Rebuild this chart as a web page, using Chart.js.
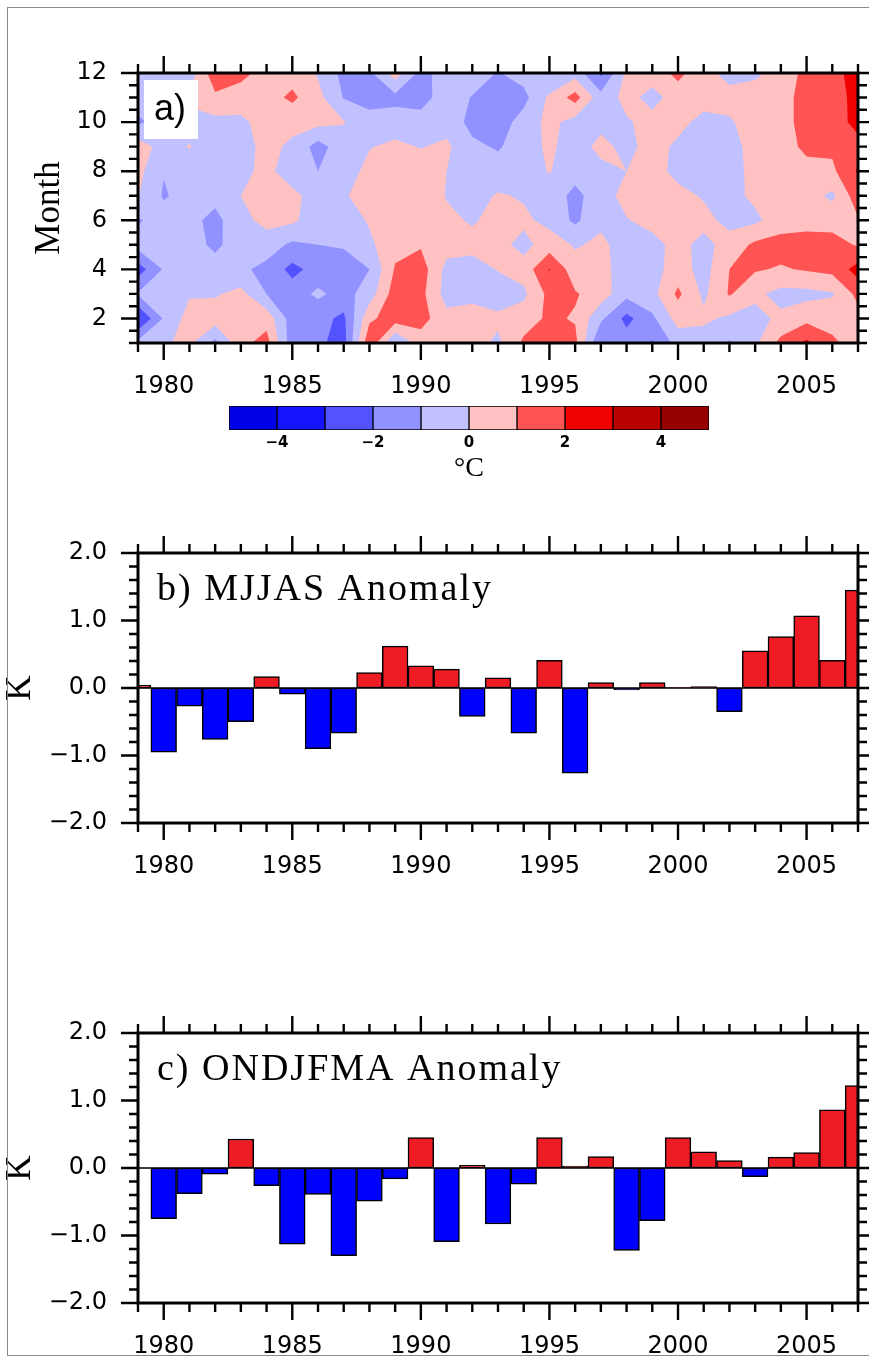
<!DOCTYPE html>
<html><head><meta charset="utf-8">
<script src="https://cdn.jsdelivr.net/npm/chart.js@4"></script>
<style>
html,body{margin:0;padding:0;background:#fff;width:869px;height:1357px;overflow:hidden;position:relative;}
#frame{position:absolute;left:7px;top:7px;width:900px;height:1349px;border:1px solid #8a8a8a;box-sizing:border-box;z-index:10;pointer-events:none;}
canvas{position:absolute;left:0;}
</style></head><body>
<div id="frame"></div>
<canvas id="ca" width="869" height="400" style="top:0px"></canvas>
<canvas id="cbar" width="869" height="90" style="top:400px"></canvas>
<canvas id="cb" width="869" height="400" style="top:490px"></canvas>
<canvas id="cc" width="869" height="386" style="top:970px"></canvas>
<script>
// ---------------- DATA ----------------
const years = [1979,1980,1981,1982,1983,1984,1985,1986,1987,1988,1989,1990,1991,1992,1993,1994,1995,1996,1997,1998,1999,2000,2001,2002,2003,2004,2005,2006,2007];
const months = [1,2,3,4,5,6,7,8,9,10,11,12];
// monthly temperature anomaly (°C), one array per month, values for 1979..2007
const anomJan = [-0.7,-0.1,0.2,-1.3,0.7,1.4,-1.6,-1.8,-2.4,1.8,-1.1,0.5,0.3,0.4,-0.2,1.2,1.5,1.3,-2.1,-1.5,-2.1,-0.6,-0.5,-1.1,-0.2,1.3,2.2,1.2,0.5];
const anomFeb = [-3.1,-0.9,0.4,0.5,0.6,0.6,-1.5,-1.7,-2.2,0.8,1.5,1.4,0.3,0.3,0.2,0.5,1.2,0.9,-0.8,-2.3,-1.2,0.4,0.2,-0.2,-0.3,0.2,0.7,0.6,0.6];
const anomMar = [-0.9,-0.6,-0.1,-0.1,0.3,-1.0,-1.5,-0.8,-1.4,-0.5,1.5,1.3,-0.4,-0.2,-0.5,-0.2,1.3,1.1,0.5,-0.7,-0.3,1.2,-0.2,1.1,0.2,-0.3,-0.3,-0.1,1.3];
const anomApr = [-2.5,-0.9,-0.5,-0.6,-0.8,-1.3,-2.3,-1.6,-1.5,-1.0,1.1,1.5,-0.3,-0.4,0.05,0.4,2.05,0.4,0.4,-0.6,-0.4,0.5,-0.4,1.0,1.1,0.9,1.1,1.3,2.4];
const anomMay = [-0.6,-0.5,-0.6,-1.2,-0.5,-0.5,-1.2,-1.0,-0.9,-0.2,0.7,0.9,0.4,0.3,0.3,-0.3,0.5,-0.1,0.2,-0.4,-0.3,0.3,-0.3,0.4,1.2,1.4,1.6,1.4,0.9];
const anomJun = [-1.1,-0.6,-0.7,-1.3,-0.3,0.3,0.2,-0.6,-0.5,0.1,0.6,0.4,0.2,-0.1,0.3,0.2,-0.3,-1.2,-0.2,-0.05,0.3,0.4,0.3,-0.3,-0.2,0.5,0.5,0.6,0.9];
const anomJul = [0.05,-1.1,-0.6,-0.7,0.0,0.5,0.3,-0.5,-0.1,0.4,0.6,0.6,-0.05,-0.4,0.1,-0.1,-0.4,-1.3,-0.4,0.3,0.5,0.3,-0.1,-0.3,0.2,0.4,0.4,-0.2,1.6];
const anomAug = [0.3,-0.95,-0.5,-0.6,-0.3,0.3,-0.6,-1.0,-0.5,0.3,0.5,0.5,0.0,-0.5,-0.6,-0.4,0.05,-0.6,-0.3,0.0,0.4,-0.3,-0.4,-0.4,0.3,0.5,0.7,0.8,2.1];
const anomSep = [0.5,-0.4,0.05,-0.6,-0.4,0.3,-0.2,-1.4,-0.4,-0.05,0.2,-0.05,0.2,-0.8,-1.1,-0.5,0.2,-0.5,0.3,-0.3,0.4,-0.2,-0.05,-0.4,0.4,0.6,1.2,1.2,1.8];
const anomOct = [-1.2,-0.5,-0.3,-0.3,-0.2,0.4,0.3,0.3,0.05,-0.6,-0.5,-0.6,-0.4,-1.3,-1.5,-0.6,0.3,-0.4,-0.3,-0.1,0.3,0.3,-0.3,-0.1,0.4,0.6,1.4,1.7,2.2];
const anomNov = [-0.5,-0.3,0.2,0.8,0.5,0.6,1.2,0.3,-1.05,-1.4,-1.3,-1.4,-0.5,-1.05,-1.2,-1.3,0.2,1.4,-0.6,0.3,-0.3,0.4,0.4,0.3,0.5,0.5,1.5,1.6,2.3];
const anomDec = [-0.5,-0.4,-0.6,1.7,1.3,0.6,0.6,-0.1,-1.3,-1.2,0.5,-1.3,-0.6,-0.5,-1.05,-0.6,-1.1,-0.4,-2.2,0.2,0.4,1.3,0.3,-0.3,-0.2,0.4,1.3,1.6,2.5];
// seasonal anomalies (K)
const mjjas   = [0.04,-0.95,-0.27,-0.76,-0.50,0.17,-0.09,-0.90,-0.67,0.23,0.62,0.33,0.28,-0.42,0.15,-0.67,0.41,-1.26,0.08,-0.03,0.08,0.005,0.02,-0.35,0.55,0.76,1.07,0.41,1.45];
const ondjfma = [0.0,-0.75,-0.38,-0.09,0.43,-0.26,-1.13,-0.39,-1.30,-0.49,-0.16,0.45,-1.09,0.04,-0.83,-0.24,0.45,0.03,0.17,-1.22,-0.78,0.45,0.24,0.11,-0.13,0.16,0.23,0.86,1.22];
// tick labels / levels
const yearTicks = [1980,1985,1990,1995,2000,2005];
const monthTicks = [2,4,6,8,10,12];
const kTicks = [-2,-1,0,1,2];
const cbLevels = [-5,-4,-3,-2,-1,0,1,2,3,4,5];
const cbTicks = [-4,-2,0,2,4];
const cbColors = ['#0000E6','#1414FF','#5252FF','#9191FF','#C1C1FF','#FFC1C1','#FF5454','#F00000','#B80000','#960000'];

const monthRows = [anomJan,anomFeb,anomMar,anomApr,anomMay,anomJun,anomJul,anomAug,anomSep,anomOct,anomNov,anomDec];
const RED = '#ED1C24', BLUE = '#0000FF';
const TICKFONT = {family:'"DejaVu Sans"', size:24};
const minus = v => (v < 0 ? '\u2212' : '') + Math.abs(v);

// --------------- PLUGINS ---------------
const axesPlugin = {
  id: 'axesFrame',
  afterDraw(chart, args, o) {
    const {ctx, chartArea: a, scales: {x, y}} = chart;
    ctx.save();
    ctx.strokeStyle = '#000';
    ctx.lineWidth = 2.4;
    ctx.beginPath();
    const nx = Math.round((o.xMax - o.xMin) / o.xMinor);
    for (let i = 0; i <= nx; i++) {
      const v = o.xMin + i * o.xMinor;
      const px = x.getPixelForValue(v);
      const len = (Math.abs(v / o.xMajor - Math.round(v / o.xMajor)) < 1e-6) ? 17 : 9;
      ctx.moveTo(px, a.bottom); ctx.lineTo(px, a.bottom + len);
      ctx.moveTo(px, a.top); ctx.lineTo(px, a.top - len);
    }
    const ny = Math.round((o.yMax - o.yMin) / o.yMinor);
    for (let i = 0; i <= ny; i++) {
      const v = o.yMin + i * o.yMinor;
      const py = y.getPixelForValue(v);
      const len = (Math.abs(v / o.yMajor - Math.round(v / o.yMajor)) < 1e-6) ? 17 : 9;
      ctx.moveTo(a.left, py); ctx.lineTo(a.left - len, py);
      ctx.moveTo(a.right, py); ctx.lineTo(a.right + len, py);
    }
    ctx.stroke();
    if (o.zeroLine) {
      ctx.lineWidth = 1.6;
      ctx.beginPath();
      const p0 = y.getPixelForValue(0);
      ctx.moveTo(a.left, p0); ctx.lineTo(a.right, p0);
      ctx.stroke();
    }
    ctx.lineWidth = 3;
    ctx.strokeRect(a.left, a.top, a.right - a.left, a.bottom - a.top);
    if (o.title) {
      ctx.fillStyle = '#000';
      ctx.font = '38px "Liberation Serif"';
      ctx.letterSpacing = '2px';
      ctx.textBaseline = 'alphabetic';
      ctx.textAlign = 'left';
      ctx.fillText(o.title, a.left + 19, a.top + 47);
    }
    if (o.boxLabel) {
      ctx.fillStyle = '#fff';
      ctx.fillRect(a.left + 6, a.top + 7, 54, 59);
      ctx.fillStyle = '#000';
      ctx.font = '36px "Liberation Sans"';
      ctx.textBaseline = 'alphabetic';
      ctx.textAlign = 'left';
      ctx.fillText(o.boxLabel, a.left + 16, a.top + 47);
    }
    ctx.restore();
  }
};

function clipPoly(pts, L) {
  const out = [];
  for (let k = 0; k < pts.length; k++) {
    const a = pts[k], b = pts[(k + 1) % pts.length];
    const ain = a.v >= L, bin = b.v >= L;
    if (ain) out.push(a);
    if (ain !== bin) {
      const t = (L - a.v) / (b.v - a.v);
      out.push({x: a.x + t * (b.x - a.x), y: a.y + t * (b.y - a.y), v: L});
    }
  }
  return out;
}

const contourPlugin = {
  id: 'contourFill',
  beforeDatasetsDraw(chart, args, o) {
    const {ctx, chartArea: a, scales: {x, y}} = chart;
    const pts = chart.data.datasets[0].data;
    const nX = o.nX, nY = o.nY;
    const node = (i, j) => pts[j * nX + i];
    ctx.save();
    ctx.beginPath();
    ctx.rect(a.left, a.top, a.right - a.left, a.bottom - a.top);
    ctx.clip();
    ctx.fillStyle = o.colors[0];
    ctx.fillRect(a.left, a.top, a.right - a.left, a.bottom - a.top);
    for (let k = 1; k < o.levels.length - 1; k++) {
      const L = o.levels[k];
      ctx.beginPath();
      let any = false;
      for (let j = 0; j < nY - 1; j++) {
        for (let i = 0; i < nX - 1; i++) {
          const q = [node(i, j), node(i + 1, j), node(i + 1, j + 1), node(i, j + 1)]
            .map(p => ({x: p.x, y: p.y, v: p.v}));
          const poly = clipPoly(q, L);
          if (poly.length < 3) continue;
          any = true;
          poly.forEach((p, n) => {
            const px = x.getPixelForValue(p.x), py = y.getPixelForValue(p.y);
            if (n === 0) ctx.moveTo(px, py); else ctx.lineTo(px, py);
          });
          ctx.closePath();
        }
      }
      if (any) { ctx.fillStyle = o.colors[k]; ctx.fill('nonzero'); }
    }
    ctx.restore();
  }
};

const common = {
  responsive: false, animation: false, devicePixelRatio: 1,
  events: [],
};

// --------------- PANEL A ---------------
const gridPoints = [];
months.forEach((m, j) => years.forEach((yr, i) => gridPoints.push({x: yr, y: m, v: monthRows[j][i]})));

function xScale(h) {
  return {
    type: 'linear', min: years[0], max: years[years.length - 1], offset: false,
    afterBuildTicks: s => { s.ticks = yearTicks.map(v => ({value: v})); },
    afterFit: s => { s.height = h; },
    grid: {display: false, drawTicks: false, offset: false}, border: {display: false},
    ticks: {font: TICKFONT, color: '#000', padding: 29, autoSkip: false, maxRotation: 0, callback: v => String(v)}
  };
}

new Chart(document.getElementById('ca'), {
  type: 'scatter',
  data: {datasets: [{data: gridPoints, pointRadius: 0, showLine: false}]},
  options: Object.assign({}, common, {
    layout: {padding: {top: 73, right: 11, left: 0, bottom: 0}},
    plugins: {legend: {display: false}, tooltip: {enabled: false},
      contourFill: {nX: years.length, nY: months.length, levels: cbLevels, colors: cbColors},
      axesFrame: {xMin: 1979, xMax: 2007, xMinor: 1, xMajor: 5, yMin: 1, yMax: 12, yMinor: 0.5, yMajor: 2, boxLabel: 'a)'}
    },
    scales: {
      x: xScale(57),
      y: {
        type: 'linear', min: 1, max: 12,
        afterBuildTicks: s => { s.ticks = monthTicks.map(v => ({value: v})); },
        afterFit: s => { s.width = 138; },
        grid: {display: false, drawTicks: false}, border: {display: false},
        ticks: {font: TICKFONT, color: '#000', padding: 31, autoSkip: false, callback: v => String(v)},
        title: {display: true, text: 'Month', color: '#000', font: {family: '"Liberation Serif"', size: 35}, padding: {top: 29, bottom: 0}}
      }
    }
  }),
  plugins: [contourPlugin, axesPlugin]
});

// --------------- COLORBAR ---------------
new Chart(document.getElementById('cbar'), {
  type: 'bar',
  data: {
    labels: ['bar'],
    datasets: cbColors.map((c, k) => ({
      data: [[cbLevels[k], cbLevels[k + 1]]],
      backgroundColor: c, borderColor: '#000', borderWidth: 1, borderSkipped: false,
      grouped: false, barPercentage: 1, categoryPercentage: 1
    }))
  },
  options: Object.assign({}, common, {
    indexAxis: 'y',
    layout: {padding: {top: 6, left: 229, right: 160, bottom: 0}},
    plugins: {legend: {display: false}, tooltip: {enabled: false}},
    scales: {
      x: {
        type: 'linear', min: cbLevels[0], max: cbLevels[cbLevels.length - 1],
        afterBuildTicks: s => { s.ticks = cbTicks.map(v => ({value: v})); },
        afterFit: s => { s.height = 60; },
        grid: {display: false, drawTicks: false}, border: {display: false},
        ticks: {font: {family: '"DejaVu Sans"', size: 15, weight: 'bold'}, color: '#000', padding: 4, autoSkip: false, maxRotation: 0, callback: v => minus(v)},
        title: {display: true, text: '\u00B0C', color: '#000', font: {family: '"Liberation Serif"', size: 28}, padding: {top: 0, bottom: 5}}
      },
      y: {display: false}
    }
  })
});

// --------------- BAR PANELS ---------------
function barPanel(id, values, title, xh) {
  new Chart(document.getElementById(id), {
    type: 'bar',
    data: {datasets: [{
      data: years.map((yr, i) => ({x: yr, y: values[i]})),
      backgroundColor: c => (c.raw && c.raw.y >= 0 ? RED : BLUE),
      borderColor: '#000', borderWidth: 1.5, borderSkipped: false,
      barPercentage: 1, categoryPercentage: 1
    }]},
    options: Object.assign({}, common, {
      layout: {padding: {top: 63, right: 11, left: 0, bottom: 0}},
      plugins: {legend: {display: false}, tooltip: {enabled: false},
        axesFrame: {xMin: 1979, xMax: 2007, xMinor: 1, xMajor: 5, yMin: -2, yMax: 2, yMinor: 0.2, yMajor: 1, zeroLine: true, title: title}
      },
      scales: {
        x: xScale(xh),
        y: {
          type: 'linear', min: -2, max: 2,
          afterBuildTicks: s => { s.ticks = kTicks.map(v => ({value: v})); },
          afterFit: s => { s.width = 138; },
          grid: {display: false, drawTicks: false}, border: {display: false},
          ticks: {font: TICKFONT, color: '#000', padding: 31, autoSkip: false, callback: v => (v < 0 ? '\u2212' : '') + Math.abs(v).toFixed(1)},
          title: {display: true, text: 'K', color: '#000', font: {family: '"Liberation Serif"', size: 35}, padding: {top: 0, bottom: 0}}
        }
      }
    }),
    plugins: [axesPlugin]
  });
}
barPanel('cb', mjjas, 'b) MJJAS Anomaly', 67);
barPanel('cc', ondjfma, 'c) ONDJFMA Anomaly', 53);
</script>
</body></html>
